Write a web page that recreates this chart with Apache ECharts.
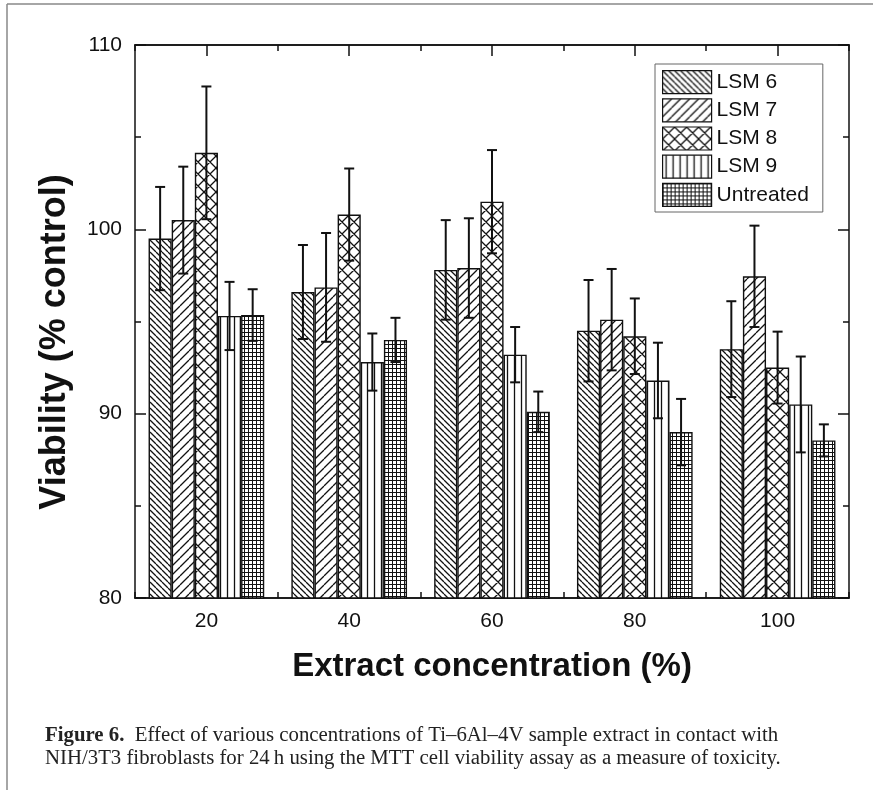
<!DOCTYPE html>
<html>
<head>
<meta charset="utf-8">
<script src="https://cdn.jsdelivr.net/npm/echarts@6/dist/echarts.min.js"></script>
<style>
html,body{margin:0;padding:0;background:#fff;}
#chart{width:873px;height:790px;}
</style>
</head>
<body>
<div id="chart"></div>
<script>
const categories = ['20', '40', '60', '80', '100'];
const seriesNames = ['LSM 6', 'LSM 7', 'LSM 8', 'LSM 9', 'Untreated'];
const lsm6 = [99.5, 96.6, 97.8, 94.5, 93.5];
const lsm6Err = [2.8, 2.55, 2.7, 2.75, 2.6];
const lsm7 = [100.5, 96.85, 97.9, 95.1, 97.45];
const lsm7Err = [2.9, 2.95, 2.7, 2.75, 2.75];
const lsm8 = [104.15, 100.8, 101.5, 94.2, 92.5];
const lsm8Err = [3.6, 2.5, 2.8, 2.05, 1.95];
const lsm9 = [95.3, 92.8, 93.2, 91.8, 90.5];
const lsm9Err = [1.85, 1.55, 1.5, 2.05, 2.6];
const untreated = [95.35, 94.0, 90.1, 89.0, 88.55];
const untreatedErr = [1.4, 1.2, 1.1, 1.8, 0.87];
const yTicks = {min: 80, max: 110, interval: 10};
const xTitle = 'Extract concentration (%)';
const yTitle = 'Viability (% control)';
const caption1 = 'Effect of various concentrations of Ti\u20136Al\u20134V sample extract in contact with';
const caption2 = 'NIH/3T3 fibroblasts for 24\u2009h using the MTT cell viability assay as a measure of toxicity.';

const values = [lsm6, lsm7, lsm8, lsm9, untreated];
const errors = [lsm6Err, lsm7Err, lsm8Err, lsm9Err, untreatedErr];
const CAT_GAP = 0.19;

function makePattern(kind) {
  const c = document.createElement('canvas');
  let s = 6;
  if (kind === 'fwd') s = 9;
  if (kind === 'cross') s = 12;
  if (kind === 'vert') s = 7;
  if (kind === 'grid') s = 4;
  c.width = s; c.height = s;
  const g = c.getContext('2d');
  g.fillStyle = '#fff';
  g.fillRect(0, 0, s, s);
  g.strokeStyle = '#111';
  g.lineWidth = (kind === 'grid') ? 1 : 1.3;
  g.beginPath();
  if (kind === 'back' || kind === 'cross') {
    for (const k of [-s, 0, s]) { g.moveTo(k, 0); g.lineTo(k + s, s); }
  }
  if (kind === 'fwd' || kind === 'cross') {
    for (const k of [-s, 0, s]) { g.moveTo(k, s); g.lineTo(k + s, 0); }
  }
  if (kind === 'vert') { g.moveTo(3.5, 0); g.lineTo(3.5, s); }
  if (kind === 'grid') { g.moveTo(0.5, 0); g.lineTo(0.5, s); g.moveTo(0, 0.5); g.lineTo(s, 0.5); }
  g.stroke();
  return {image: c, repeat: 'repeat'};
}
const patterns = ['back', 'fwd', 'cross', 'vert', 'grid'].map(makePattern);

const barSeries = seriesNames.map((name, i) => ({
  name: name,
  type: 'bar',
  xAxisIndex: 0,
  yAxisIndex: 0,
  barGap: '0%',
  barCategoryGap: (CAT_GAP * 100) + '%',
  data: values[i],
  itemStyle: {color: patterns[i], borderColor: '#111', borderWidth: 1.4},
  emphasis: {disabled: true},
  z: 2
}));

const errData = [];
values.forEach((arr, s) => arr.forEach((v, c) => errData.push([c, s, v, errors[s][c]])));

const errSeries = {
  type: 'custom',
  xAxisIndex: 0,
  yAxisIndex: 0,
  z: 5,
  silent: true,
  data: errData,
  encode: {x: 0, y: 2},
  renderItem: function (params, api) {
    const cat = api.value(0), s = api.value(1), v = api.value(2), e = api.value(3);
    const band = api.size([1, 0])[0];
    const groupW = band * (1 - CAT_GAP);
    const bw = groupW / seriesNames.length;
    const center = api.coord([cat, v]);
    const x = center[0] - groupW / 2 + bw * (s + 0.5);
    const yHi = api.coord([cat, v + e])[1];
    const yLo = api.coord([cat, v - e])[1];
    const cap = 5;
    const st = {stroke: '#111', lineWidth: 2, fill: null};
    return {
      type: 'group',
      children: [
        {type: 'line', shape: {x1: x, y1: yHi, x2: x, y2: yLo}, style: st},
        {type: 'line', shape: {x1: x - cap, y1: yHi, x2: x + cap, y2: yHi}, style: st},
        {type: 'line', shape: {x1: x - cap, y1: yLo, x2: x + cap, y2: yLo}, style: st}
      ]
    };
  }
};

const axisLineStyle = {color: '#111', width: 1.5};
const FONT = 'Liberation Sans, Arial, sans-serif';
const SERIF = 'Liberation Serif, Times New Roman, serif';

function catAxis(pos, major, showLabel, name) {
  return {
    type: 'category',
    data: categories,
    position: pos,
    axisLine: {show: true, onZero: false, lineStyle: axisLineStyle},
    axisTick: {show: true, inside: true, alignWithLabel: major, length: major ? 11 : 6, lineStyle: {color: '#111', width: 1.5}},
    axisLabel: {show: showLabel, fontSize: 21, color: '#111', fontFamily: FONT, margin: 13},
    splitLine: {show: false},
    name: name || '',
    nameLocation: 'middle',
    nameGap: 52,
    nameTextStyle: {fontSize: 33, fontWeight: 'bold', color: '#111', fontFamily: FONT}
  };
}
function valAxis(pos, showLabel) {
  return {
    type: 'value',
    position: pos,
    min: yTicks.min, max: yTicks.max, interval: yTicks.interval,
    axisLine: {show: true, onZero: false, lineStyle: axisLineStyle},
    axisTick: {show: true, inside: true, length: 11, lineStyle: {color: '#111', width: 1.5}},
    minorTick: {show: true, splitNumber: 2, length: 6, lineStyle: {color: '#111', width: 1.5}},
    axisLabel: {show: showLabel, fontSize: 21, color: '#111', fontFamily: FONT, margin: 13},
    splitLine: {show: false}
  };
}

const chart = echarts.init(document.getElementById('chart'), null, {renderer: 'canvas'});
chart.setOption({
  animation: false,
  backgroundColor: '#fff',
  grid: {left: 135, right: 24, top: 45, bottom: 192, containLabel: false},
  xAxis: [
    catAxis('bottom', true, true, xTitle),
    catAxis('bottom', false, false),
    catAxis('top', true, false),
    catAxis('top', false, false)
  ],
  yAxis: [
    valAxis('left', true),
    valAxis('right', false)
  ],
  legend: {
    data: seriesNames,
    orient: 'vertical',
    left: 655,
    top: 64,
    itemWidth: 49,
    itemHeight: 23,
    itemGap: 4,
    icon: 'rect',
    padding: [6, 14, 5, 7],
    borderColor: '#666',
    borderWidth: 1,
    backgroundColor: '#fff',
    textStyle: {fontSize: 21, color: '#111', fontFamily: FONT},
    itemStyle: {borderColor: '#111', borderWidth: 1.2},
    selectedMode: false
  },
  series: barSeries.concat([errSeries]),
  graphic: [
    {type: 'line', shape: {x1: 7, y1: 4, x2: 7, y2: 790}, style: {stroke: '#888', lineWidth: 1.5}},
    {type: 'line', shape: {x1: 7, y1: 4, x2: 873, y2: 4}, style: {stroke: '#888', lineWidth: 1.5}},
    {type: 'text', x: 55, y: 342, rotation: Math.PI / 2, style: {
      text: yTitle, fontSize: 36, fontWeight: 'bold', fontFamily: FONT, fill: '#111',
      align: 'center', verticalAlign: 'middle'
    }},
    {type: 'text', left: 45, top: 725, style: {
      text: '{b|Figure 6.}  ' + caption1,
      fontSize: 20.8, fontFamily: SERIF, fill: '#222',
      rich: {b: {fontWeight: 'bold', fontSize: 20.8, fontFamily: SERIF, fill: '#222'}}
    }},
    {type: 'text', left: 45, top: 748, style: {
      text: caption2,
      fontSize: 20.8, fontFamily: SERIF, fill: '#222'
    }}
  ]
});
</script>
</body>
</html>
